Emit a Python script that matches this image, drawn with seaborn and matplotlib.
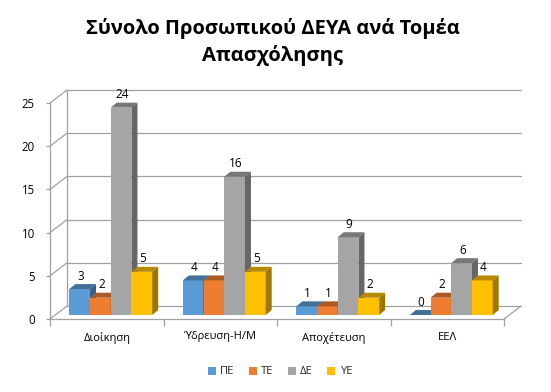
import numpy as np
import pandas as pd
import matplotlib
matplotlib.use('Agg')
import matplotlib.pyplot as plt
import seaborn as sns
import matplotlib.colors as mcolors
from matplotlib.patches import Polygon, Patch
from matplotlib.transforms import ScaledTranslation, IdentityTransform

# ---- data ----
categories = ['Διοίκηση', 'Ύδρευση-Η/Μ', 'Αποχέτευση', 'ΕΕΛ']
series = ['ΠΕ', 'ΤΕ', 'ΔΕ', 'ΥΕ']
pe = [3, 4, 1, 0]
te = [2, 4, 1, 2]
de = [24, 16, 9, 6]
ye = [5, 5, 2, 4]
colors = ['#5B9BD5', '#ED7D31', '#A5A5A5', '#FFC000']
yticks = [0, 5, 10, 15, 20, 25]
title = 'Σύνολο Προσωπικού ΔΕΥΑ ανά Τομέα\nΑπασχόλησης'

values = {'ΠΕ': pe, 'ΤΕ': te, 'ΔΕ': de, 'ΥΕ': ye}
rows = []
for s in series:
    for c, v in zip(categories, values[s]):
        rows.append({'cat': c, 'ser': s, 'val': v})
df = pd.DataFrame(rows)

sns.set_theme(style='white')
plt.rcParams['font.family'] = ['Open Sans', 'DejaVu Sans']

W, H, DPI = 551, 392, 100
fig = plt.figure(figsize=(W / DPI, H / DPI), dpi=DPI)
fig.patch.set_facecolor('white')
ax = fig.add_axes([50 / W, 73 / H, 454 / W, 216 / H])

sns.barplot(data=df, x='cat', y='val', hue='ser', order=categories,
            hue_order=series, palette=colors, width=0.73, saturation=1,
            legend=False, ax=ax, linewidth=0, edgecolor='none', errorbar=None)
ax.set_xlim(-0.5, 3.5)
ax.set_ylim(0, 25)
ax.set_xlabel('')
ax.set_ylabel('')

GRID = '#A0A0A0'
LW = 0.9
BACK = (17, 13)
SHIFT = (4, 4)
DEPTH = (6, 5)


def off(dx, dy):
    return ax.transData + ScaledTranslation(dx / DPI, dy / DPI, fig.dpi_scale_trans)


ident = IdentityTransform()

# back wall and floor
for v in yticks:
    ax.plot([-0.5, 3.5], [v, v], color=GRID, lw=LW, transform=off(*BACK),
            zorder=0.5, clip_on=False)
    p0 = ax.transData.transform((-0.5, v))
    ax.plot([p0[0], p0[0] + BACK[0]], [p0[1], p0[1] + BACK[1]], color=GRID,
            lw=LW, transform=ident, zorder=0.5, clip_on=False)
ax.plot([-0.5, -0.5], [0, 25], color=GRID, lw=LW, transform=off(*BACK),
        zorder=0.5, clip_on=False)
pr = ax.transData.transform((3.5, 0))
ax.plot([pr[0], pr[0] + BACK[0]], [pr[1], pr[1] + BACK[1]], color=GRID,
        lw=LW, transform=ident, zorder=0.5, clip_on=False)


def shade(c, f):
    r, g, b = mcolors.to_rgb(c)
    return (r * f, g * f, b * f)


bars = sorted(ax.patches, key=lambda p: p.get_x())
for i, p in enumerate(bars):
    x, w, h = p.get_x(), p.get_width(), p.get_height()
    fc = p.get_facecolor()
    z = 2 + i * 0.01
    p.set_transform(off(*SHIFT))
    p.set_zorder(z)
    p.set_clip_on(False)
    A = ax.transData.transform((x, h)) + np.array(SHIFT)
    B = ax.transData.transform((x + w, h)) + np.array(SHIFT)
    E = ax.transData.transform((x + w, 0)) + np.array(SHIFT)
    d = np.array(DEPTH)
    top = Polygon([A, B, B + d, A + d], closed=True, facecolor=shade(fc, 0.72),
                  edgecolor='none', transform=ident, zorder=z + 0.004, clip_on=False)
    side = Polygon([B, E, E + d, B + d], closed=True, facecolor=shade(fc, 0.62),
                   edgecolor='none', transform=ident, zorder=z + 0.004, clip_on=False)
    ax.add_artist(top)
    ax.add_artist(side)
    ax.annotate(f'{int(round(h))}', xy=(x + w / 2, h), xytext=(SHIFT[0] + 1, SHIFT[1] + 13),
                textcoords='offset pixels', ha='center', va='center', fontsize=8.5,
                color='#000000', zorder=5, annotation_clip=False)

# axes styling
for s in ['top', 'right']:
    ax.spines[s].set_visible(False)
for s in ['left', 'bottom']:
    ax.spines[s].set_color(GRID)
    ax.spines[s].set_linewidth(LW)
    ax.spines[s].set_zorder(0.6)
ax.set_yticks(yticks)
ax.set_yticklabels([str(v) for v in yticks])
ax.tick_params(axis='y', length=3, width=LW, color=GRID, pad=8, labelsize=8.3,
               labelcolor='#000000', left=True)
ax.set_xticks(range(len(categories)))
ax.set_xticklabels(categories)
ax.set_xticks([-0.5 + k for k in range(5)], minor=True)
ax.tick_params(axis='x', which='major', length=0, pad=9, labelsize=8,
               labelcolor='#000000')
ax.tick_params(axis='x', which='minor', length=5, width=LW, color=GRID, bottom=True)
ax.set_facecolor('none')
ax.grid(False)

fig.text(273 / W, 1 - 42 / H, title, ha='center', va='center', fontsize=14.5,
         fontweight='bold', linespacing=1.4, color='#000000')

handles = [Patch(facecolor=c, edgecolor='none', label=s) for c, s in zip(colors, series)]
fig.legend(handles=handles, loc='center', bbox_to_anchor=(280 / W, 1 - 372 / H),
           ncol=4, frameon=False, fontsize=8, handlelength=0.7, handleheight=0.7,
           handletextpad=0.4, columnspacing=1.3)

fig.savefig('out.png', dpi=DPI, facecolor='white')
